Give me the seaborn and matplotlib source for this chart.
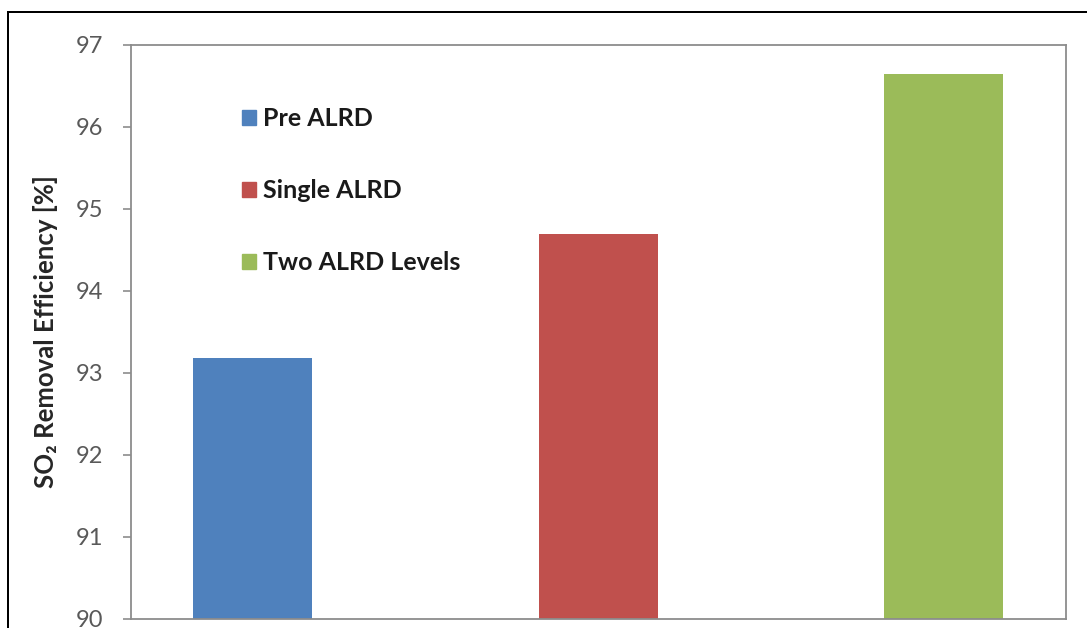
import matplotlib
matplotlib.use("Agg")
import matplotlib.pyplot as plt
import matplotlib.patches as mpatches
import seaborn as sns
import pandas as pd

# Data
categories = ["Pre ALRD", "Single ALRD", "Two ALRD Levels"]
efficiency = [93.18, 94.70, 96.65]
colors = ["#4F81BD", "#C0504D", "#9BBB59"]
y_ticks = [90, 91, 92, 93, 94, 95, 96, 97]

sns.set_theme(style="white")
plt.rcParams["font.family"] = ["Lato", "DejaVu Sans"]

df = pd.DataFrame({"case": categories, "eff": efficiency})

W, H = 1087, 628
fig = plt.figure(figsize=(W / 100, H / 100), dpi=100)
fig.patch.set_facecolor("white")
fig.patch.set_edgecolor("none")
fig.patch.set_linewidth(0)
ax = fig.add_axes([131 / W, (H - 619) / H, (1066 - 131) / W, (619 - 45) / H])

sns.barplot(data=df, x="case", y="eff", hue="case", palette=colors,
            width=0.344, dodge=False, legend=True, ax=ax,
            saturation=1, linewidth=0, order=categories, hue_order=categories)

ax.set_ylim(90, 97)
ax.set_xlim(-0.351, 2.353)
ax.set_yticks(y_ticks)
ax.set_yticklabels([str(t) for t in y_ticks])
ax.set_xticks([])
ax.set_xlabel("")
ax.set_ylabel("SO₂ Removal Efficiency [%]", fontsize=18.5, fontweight="bold",
              color="#262626")
ax.yaxis.set_label_coords((58 - 131) / (1066 - 131), 0.5)

spine_c = "#8C8C8C"
for s in ax.spines.values():
    s.set_visible(True)
    s.set_color(spine_c)
    s.set_linewidth(1.3)

ax.tick_params(axis="y", which="major", left=True, direction="out", length=6,
               width=1.2, color=spine_c, labelsize=17, labelcolor="#595959", pad=14)
ax.tick_params(axis="x", bottom=False)

# Legend with square swatches, no frame
handles = [mpatches.Patch(color=c) for c in colors]
leg = ax.legend(handles, categories, loc="upper left",
                bbox_to_anchor=((232 - 131) / (1066 - 131), 1 - (97 - 45) / (619 - 45)),
                frameon=False, prop={"weight": "bold", "size": 18},
                handlelength=0.55, handleheight=0.55, handletextpad=0.3,
                labelspacing=1.97, borderaxespad=0)
for t in leg.get_texts():
    t.set_color("#1a1a1a")

# Outer frame (top and left edges) drawn as thin filled strips
top_strip = mpatches.Rectangle((7 / W, 1 - 13 / H), (W - 7) / W, 2 / H,
                               transform=fig.transFigure, facecolor="black",
                               edgecolor="none", linewidth=0)
left_strip = mpatches.Rectangle((7 / W, 0.0), 2 / W, 1 - 11 / H,
                                transform=fig.transFigure, facecolor="black",
                                edgecolor="none", linewidth=0)
fig.patches.extend([top_strip, left_strip])

fig.savefig("out.png", dpi=100, facecolor="white", edgecolor="none")
